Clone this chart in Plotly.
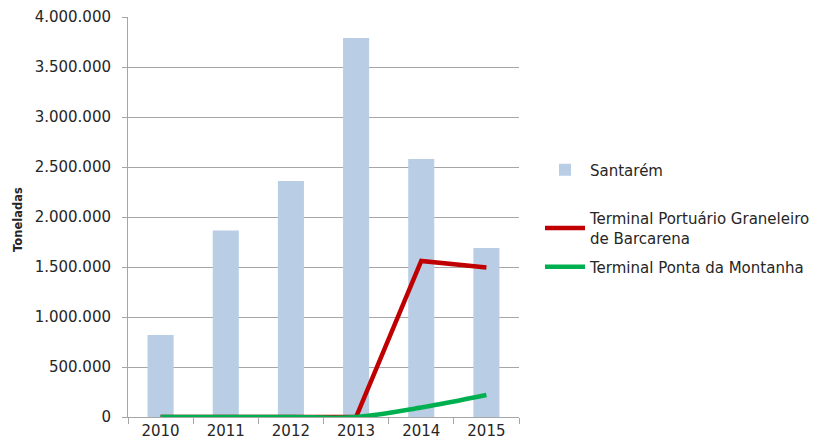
import plotly.graph_objects as go

years = ["2010", "2011", "2012", "2013", "2014", "2015"]
santarem = [820000, 1865000, 2360000, 3790000, 2580000, 1690000]
barcarena = [0, 0, 0, 0, 1560000, 1495000]
montanha = [0, 0, 0, 0, 95000, 220000]

font_family = "DejaVu Sans, Verdana, sans-serif"
txt = "#262626"

fig = go.Figure()
fig.add_trace(go.Bar(x=years, y=santarem, name="Santarém",
                     marker=dict(color="#b9cde5", line=dict(width=0)),
                     legend="legend"))
fig.add_trace(go.Scatter(x=years, y=barcarena, mode="lines",
                         name="Terminal Portuário Graneleiro<br>de Barcarena",
                         line=dict(color="#c00000", width=4.5),
                         legend="legend2"))
fig.add_trace(go.Scatter(x=years, y=montanha, mode="lines",
                         name="Terminal Ponta da Montanha",
                         line=dict(color="#00b050", width=4.5, shape="spline"),
                         legend="legend3"))

# page body has an 8px margin; plot area (screen) x 128..519, y 17..417
OFF = 8
L, R, T, B = 128, 519, 17, 417

def lx(px):
    return (px - L) / float(R - L)

def ly(py):
    return (B - py) / float(B - T)

leg_common = dict(xanchor="left", yanchor="middle", bgcolor="rgba(0,0,0,0)",
                  font=dict(size=15, color=txt, family=font_family), itemwidth=40)

fig.update_layout(
    width=823, height=448,
    margin=dict(l=L - OFF, r=823 - (R - OFF), t=T - OFF, b=448 - (B - OFF)),
    plot_bgcolor="white", paper_bgcolor="white",
    separators=",.",
    bargap=0.6,
    font=dict(family=font_family, size=15, color=txt),
    legend=dict(x=lx(540), y=ly(170), **leg_common),
    legend2=dict(x=lx(540), y=ly(228), **leg_common),
    legend3=dict(x=lx(540), y=ly(267), **leg_common),
    showlegend=True,
    annotations=[dict(text="<b>Toneladas</b>", xref="paper", yref="paper",
                      x=lx(18), y=ly(220), textangle=-90, showarrow=False,
                      xanchor="center", yanchor="middle",
                      font=dict(size=11.5, color=txt, family=font_family))],
)
fig.update_xaxes(showline=True, linecolor="#a6a6a6", linewidth=1,
                 ticks="outside", tickson="boundaries", ticklen=6,
                 tickcolor="#a6a6a6", tickfont=dict(size=15, color=txt),
                 showgrid=False, automargin=False)
fig.update_yaxes(range=[0, 4000000], dtick=500000, tickformat=",d",
                 showline=True, linecolor="#a6a6a6", linewidth=1,
                 ticks="outside", ticklen=5, tickcolor="#a6a6a6",
                 showgrid=True, gridcolor="#a6a6a6", gridwidth=1,
                 zeroline=False, automargin=False, ticklabelstandoff=8,
                 tickfont=dict(size=15, color=txt))

fig.write_html("out.html")
